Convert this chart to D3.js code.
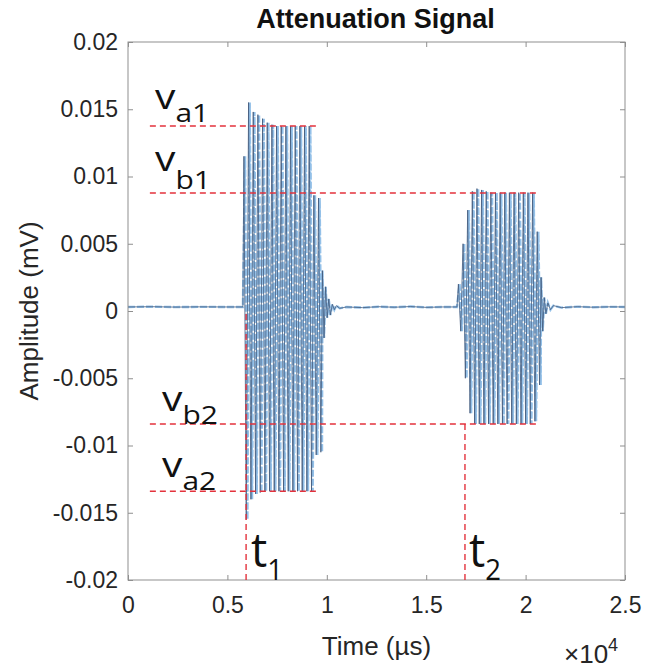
<!DOCTYPE html>
<html>
<head>
<meta charset="utf-8">
<script src="https://cdn.jsdelivr.net/npm/d3@7"></script>
<style>
  html, body { margin: 0; padding: 0; background: #fff; }
  svg { display: block; }
</style>
</head>
<body>
<svg id="chart" width="647" height="670"></svg>
<script>
// ---- data (time in µs, amplitude in mV) ----
const xDomain = [0, 25000];
const yDomain = [-0.02, 0.02];
const xTicks = [0, 5000, 10000, 15000, 20000, 25000];
const xTickLabels = ["0", "0.5", "1", "1.5", "2", "2.5"];
const yTicks = [0.02, 0.015, 0.01, 0.005, 0, -0.005, -0.01, -0.015, -0.02];
const yTickLabels = ["0.02", "0.015", "0.01", "0.005", "0", "-0.005", "-0.01", "-0.015", "-0.02"];

// quiet baseline before the first burst
const leadIn = [[0, 0.0003], [1200, 0.00032], [2400, 0.00029], [3600, 0.00031], [4800, 0.0003], [5780, 0.0003]];

// first burst: alternating crest / trough values
const burst1Start = 5830, burst1End = 9700;
const burst1Peaks = [
  0.0115, -0.0155, 0.0155, -0.0140, 0.0148, -0.0136, 0.0146, -0.0135,
  0.0143, -0.0134, 0.0140, -0.0134, 0.01385, -0.0134, 0.01375, -0.0134,
  0.01375, -0.0134, 0.01375, -0.0134, 0.01375, -0.0134, 0.01375, -0.0134,
  0.01375, -0.0134, 0.01375, -0.0134, 0.01375, -0.0134, 0.0086, -0.0107,
  0.0084, -0.0105
];
// ring-down and baseline between the bursts
const gap = [
  [9780, 0.0030], [9860, -0.0020], [9940, 0.0018], [10020, -0.0005], [10100, 0.0009],
  [10180, -0.0003], [10280, 0.0005], [10380, 0.0001], [10480, 0.0004], [10650, 0.0002],
  [11000, 0.0003], [11800, 0.00025], [12600, 0.00032], [13400, 0.00028], [14200, 0.00033],
  [15000, 0.00027], [15800, 0.0003], [16550, 0.0003]
];

// second burst
const burst2Start = 16620, burst2End = 20700;
const burst2Peaks = [
  0.0020, -0.0015, 0.0050, -0.0050, 0.0075, -0.0076, 0.0089, -0.0084,
  0.0091, -0.0084, 0.0090, -0.0084, 0.0089, -0.0084, 0.0088, -0.0084,
  0.0088, -0.0084, 0.0088, -0.0084, 0.0088, -0.0084, 0.0088, -0.0084,
  0.0088, -0.0084, 0.0088, -0.0084, 0.0088, -0.0084, 0.0088, -0.0084,
  0.0088, -0.0082, 0.0059, -0.0055
];
const tail = [
  [20780, 0.0025], [20860, -0.0015], [20940, 0.0010], [21020, -0.0002], [21120, 0.0006],
  [21250, 0.0001], [21400, 0.0004], [21800, 0.00025], [22600, 0.00032], [23400, 0.00028],
  [24200, 0.00031], [25000, 0.0003]
];

// marker levels and arrival times
const levels = [
  { name: "a1", value: 0.01375, from: 1100, to: 9560 },
  { name: "b1", value: 0.00877, from: 1100, to: 20720 },
  { name: "b2", value: -0.0084, from: 1100, to: 20720 },
  { name: "a2", value: -0.0134, from: 1100, to: 9560 }
];
const arrivals = [
  { name: "1", time: 5940, top: 0.0 },
  { name: "2", time: 16950, top: -0.0084 }
];

// ---- layout ----
const svg = d3.select("#chart");
const m = { left: 128, top: 42, right: 22, bottom: 90 };
const W = 647 - m.left - m.right;
const H = 670 - m.top - m.bottom;

const x = d3.scaleLinear().domain(xDomain).range([0, W]);
const y = d3.scaleLinear().domain(yDomain).range([H, 0]);

const g = svg.append("g").attr("transform", `translate(${m.left},${m.top})`);

svg.append("defs").append("clipPath").attr("id", "plotClip")
  .append("rect").attr("width", W).attr("height", H);

// build the traces: peaks evenly spaced in time between start and end
function burstPoints(start, end, peaks, shift) {
  const step = (end - start) / (peaks.length - 1);
  return peaks.map((v, i) => [start + i * step + shift * step, v]);
}
function trace(shift) {
  return [].concat(
    leadIn,
    burstPoints(burst1Start, burst1End, burst1Peaks, shift),
    gap,
    burstPoints(burst2Start, burst2End, burst2Peaks, shift),
    tail
  );
}

const line = d3.line().x(d => x(d[0])).y(d => y(d[1]));
const plot = g.append("g").attr("clip-path", "url(#plotClip)");

plot.append("path")
  .datum(trace(0.5))
  .attr("d", line)
  .attr("fill", "none")
  .attr("stroke", "#93c0e8")
  .attr("stroke-width", 2.4)
  .attr("stroke-dasharray", "7,2");

plot.append("path")
  .datum(trace(0))
  .attr("d", line)
  .attr("fill", "none")
  .attr("stroke", "#435b7c")
  .attr("stroke-width", 0.8);

// axes box with inward ticks on all four sides
const axisColor = "#8f8f8f";
const labelColor = "#262626";
const tickLen = 5;
const baseFont = "'Liberation Sans', Arial, sans-serif";

g.append("rect").attr("width", W).attr("height", H)
  .attr("fill", "none").attr("stroke", axisColor).attr("stroke-width", 1);

const xAxisB = d3.axisBottom(x).tickValues(xTicks).tickSize(-tickLen).tickPadding(17)
  .tickFormat((d, i) => xTickLabels[i]);
const xAxisT = d3.axisTop(x).tickValues(xTicks).tickSize(-tickLen).tickFormat("");
const yAxisL = d3.axisLeft(y).tickValues(yTicks).tickSize(-tickLen).tickPadding(10)
  .tickFormat((d, i) => yTickLabels[i]);
const yAxisR = d3.axisRight(y).tickValues(yTicks).tickSize(-tickLen).tickFormat("");

function styleAxis(sel) {
  sel.select(".domain").remove();
  sel.selectAll(".tick line").attr("stroke", axisColor);
  sel.selectAll(".tick text")
    .attr("fill", labelColor)
    .style("font-family", baseFont)
    .style("font-size", "23px");
}
g.append("g").attr("transform", `translate(0,${H})`).call(xAxisB).call(styleAxis);
g.append("g").call(xAxisT).call(styleAxis);
g.append("g").call(yAxisL).call(styleAxis);
g.append("g").attr("transform", `translate(${W},0)`).call(yAxisR).call(styleAxis);

// dashed marker lines
const red = "#e3323c";
g.selectAll(".level").data(levels).join("line")
  .attr("x1", d => x(d.from)).attr("x2", d => x(d.to))
  .attr("y1", d => y(d.value)).attr("y2", d => y(d.value))
  .attr("stroke", red).attr("stroke-width", 1.4).attr("stroke-dasharray", "6,4");
g.selectAll(".arrival").data(arrivals).join("line")
  .attr("x1", d => x(d.time)).attr("x2", d => x(d.time))
  .attr("y1", H).attr("y2", d => y(d.top))
  .attr("stroke", red).attr("stroke-width", 1.4).attr("stroke-dasharray", "6,4");

// level and time annotations (wide, rounded sans)
const annoFont = "'Open Sans', Lato, sans-serif";
const levelLabelPos = { a1: [155, 109, 13], b1: [155, 171, 18], b2: [162, 411, 13], a2: [162, 477, 13] };
levels.forEach(d => {
  const [lx, ly, sub] = levelLabelPos[d.name];
  const t = svg.append("text")
    .attr("transform", `translate(${lx},${ly}) scale(1.2,1)`)
    .attr("fill", "#111").style("font-family", annoFont);
  t.append("tspan").style("font-size", "34px").text("v");
  t.append("tspan").attr("dy", sub).style("font-size", "25px").text(d.name);
});
const arrivalLabelPos = { "1": [251, 567], "2": [469, 567] };
arrivals.forEach(d => {
  const [lx, ly] = arrivalLabelPos[d.name];
  const t = svg.append("text")
    .attr("transform", `translate(${lx},${ly}) scale(0.95,1)`)
    .attr("fill", "#111").style("font-family", annoFont);
  t.append("tspan").style("font-size", "48px").text("t");
  t.append("tspan").attr("dy", 13).style("font-size", "29px").text(d.name);
});

// titles
svg.append("text").attr("x", m.left + W / 2 - 1).attr("y", 28)
  .attr("text-anchor", "middle").attr("fill", "#111")
  .style("font-family", baseFont).style("font-size", "27px").style("font-weight", "bold")
  .text("Attenuation Signal");

svg.append("text").attr("x", m.left + W / 2).attr("y", 655)
  .attr("text-anchor", "middle").attr("fill", labelColor)
  .style("font-family", baseFont).style("font-size", "26px")
  .text("Time (µs)");

svg.append("text")
  .attr("transform", `translate(38,${m.top + H / 2}) rotate(-90)`)
  .attr("text-anchor", "middle").attr("fill", labelColor)
  .style("font-family", baseFont).style("font-size", "26px")
  .text("Amplitude (mV)");

const mult = svg.append("text").attr("x", 564).attr("y", 663).attr("fill", labelColor)
  .style("font-family", baseFont).style("font-size", "26px");
mult.append("tspan").text("×10");
mult.append("tspan").attr("dy", -12).style("font-size", "18px").text("4");
</script>
</body>
</html>
